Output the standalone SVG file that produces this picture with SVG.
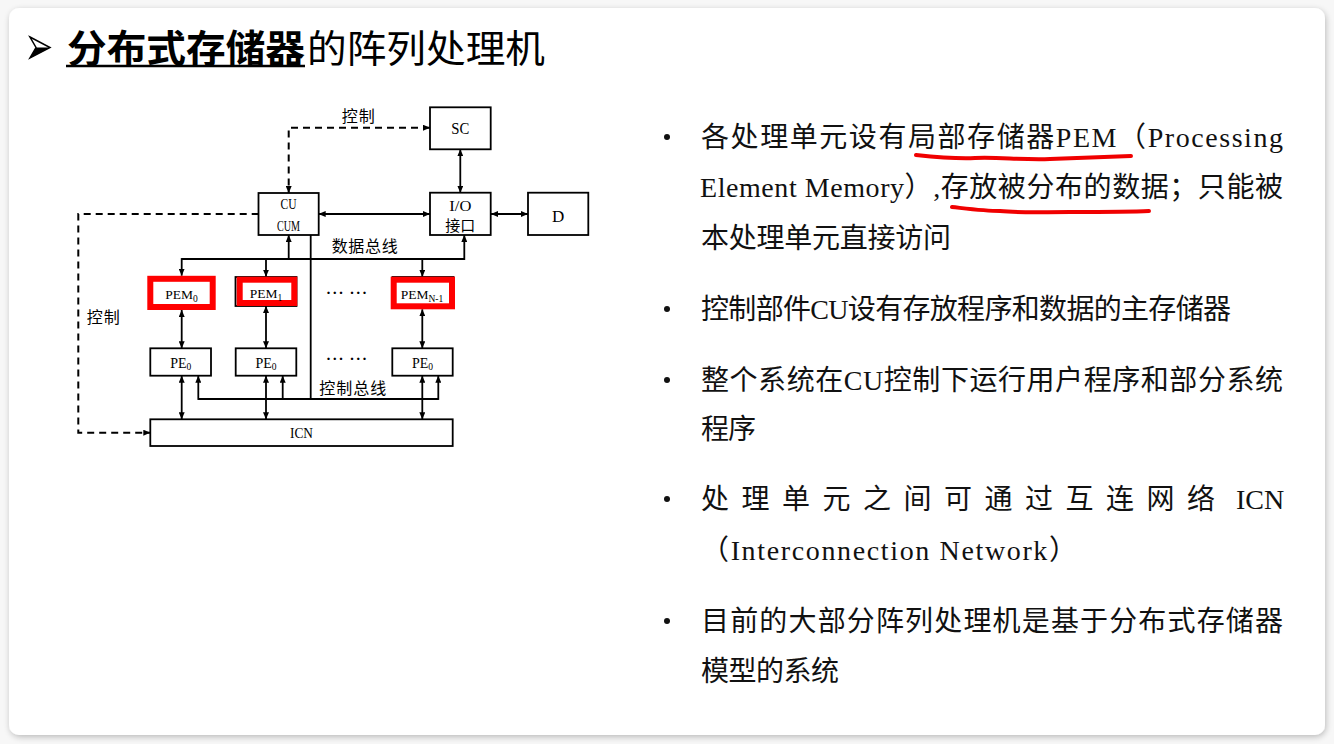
<svg xmlns="http://www.w3.org/2000/svg" width="1334" height="744" viewBox="0 0 1334 744">
<defs>
  <filter id="sh" x="-5%" y="-5%" width="110%" height="110%">
    <feGaussianBlur in="SourceAlpha" stdDeviation="3"/>
    <feOffset dx="1" dy="2" result="b"/>
    <feComponentTransfer><feFuncA type="linear" slope="0.25"/></feComponentTransfer>
    <feMerge><feMergeNode/><feMergeNode in="SourceGraphic"/></feMerge>
  </filter>
  <marker id="ah" viewBox="0 0 7 6" refX="7" refY="3" markerWidth="7" markerHeight="6" markerUnits="userSpaceOnUse" orient="auto-start-reverse">
    <path d="M0,0 L7,3 L0,6 z" fill="#000"/>
  </marker>
  <style>
    .box{fill:#fff;stroke:#000;stroke-width:1.8}
    .red{fill:none;stroke:#ff0000;stroke-width:6}
    .ln{fill:none;stroke:#000;stroke-width:1.8}
    .dash{fill:none;stroke:#000;stroke-width:2;stroke-dasharray:7 5}
    .lat{font-family:"Liberation Serif","Noto Sans CJK SC",serif;fill:#000}
    .cjk{font-family:"Liberation Serif","Noto Sans CJK SC",sans-serif;fill:#000}
    .body{font-family:"Liberation Serif","Noto Sans CJK SC",serif;font-size:28px;fill:#111}
    .title{font-family:"Noto Sans CJK SC",sans-serif;font-size:38px;fill:#000}
    .ul{fill:none;stroke:#f00000;stroke-width:4;stroke-linecap:round}
  </style>
</defs>

<rect x="0" y="0" width="1334" height="744" fill="#f7f7f7"/>
<rect id="card" x="9" y="8" width="1316" height="727" rx="10" fill="#ffffff" filter="url(#sh)"/>

<!-- Title -->
<g id="title">
  <polygon points="30,37 50,47.5 30,58 36,47.5" fill="#fff" stroke="#000" stroke-width="1.5" stroke-linejoin="miter"/>
  <polygon points="36,47.5 50,47.5 30,58" fill="#000"/>
  <text class="title" x="67" y="62" font-weight="bold" textLength="238" lengthAdjust="spacingAndGlyphs">分布式存储器</text>
  <line x1="66" y1="66" x2="305" y2="66" stroke="#000" stroke-width="2.5"/>
  <text class="title" x="307" y="62" textLength="238" lengthAdjust="spacingAndGlyphs">的阵列处理机</text>
</g>

<!-- Connectors -->
<g id="connectors">
  <path class="dash" d="M430,127.7 H288.7 V193" marker-start="url(#ah)" marker-end="url(#ah)"/>
  <path class="dash" d="M318.7,214 H78.3 V432.7 H150.3" marker-end="url(#ah)"/>
  <path class="ln" d="M318.7,214 H430" marker-start="url(#ah)" marker-end="url(#ah)"/>
  <path class="ln" d="M460.3,149.3 V192.7" marker-start="url(#ah)" marker-end="url(#ah)"/>
  <path class="ln" d="M491,214 H528" marker-start="url(#ah)" marker-end="url(#ah)"/>
  <!-- data bus -->
  <path class="ln" d="M181.7,259 H464.3 V235" marker-end="url(#ah)"/>
  <path class="ln" d="M288.7,259 V235" marker-end="url(#ah)"/>
  <path class="ln" d="M181.7,258.1 V275.7" marker-end="url(#ah)"/>
  <path class="ln" d="M266,259 V276.7" marker-end="url(#ah)"/>
  <path class="ln" d="M422.3,259 V276.7" marker-end="url(#ah)"/>
  <!-- control bus -->
  <path class="ln" d="M310.7,235 V399"/>
  <path class="ln" d="M198.3,399 H438.3"/>
  <path class="ln" d="M198.3,399.9 V375.7" marker-end="url(#ah)"/>
  <path class="ln" d="M282.7,399 V375.7" marker-end="url(#ah)"/>
  <path class="ln" d="M438.3,399.9 V375.7" marker-end="url(#ah)"/>
  <!-- PEM <-> PE -->
  <path class="ln" d="M181.7,310 V348.3" marker-start="url(#ah)" marker-end="url(#ah)"/>
  <path class="ln" d="M266,306 V348.3" marker-start="url(#ah)" marker-end="url(#ah)"/>
  <path class="ln" d="M422.3,309.3 V348.3" marker-start="url(#ah)" marker-end="url(#ah)"/>
  <!-- PE <-> ICN -->
  <path class="ln" d="M181.7,375.7 V419.3" marker-start="url(#ah)" marker-end="url(#ah)"/>
  <path class="ln" d="M266,375.7 V419.3" marker-start="url(#ah)" marker-end="url(#ah)"/>
  <path class="ln" d="M422.3,375.7 V419.3" marker-start="url(#ah)" marker-end="url(#ah)"/>
</g>

<!-- Nodes -->
<g id="n-sc">
  <rect class="box" x="430" y="107.3" width="60.7" height="42"/>
  <text class="lat" x="460.3" y="134" font-size="17" text-anchor="middle" textLength="18" lengthAdjust="spacingAndGlyphs">SC</text>
</g>
<g id="n-cu">
  <rect class="box" x="258.5" y="193" width="60.2" height="42"/>
  <text class="lat" x="288.6" y="209" font-size="15" text-anchor="middle" textLength="16" lengthAdjust="spacingAndGlyphs">CU</text>
  <text class="lat" x="288.6" y="231" font-size="15" text-anchor="middle" textLength="23" lengthAdjust="spacingAndGlyphs">CUM</text>
</g>
<g id="n-io">
  <rect class="box" x="430" y="192.7" width="60.7" height="42.3"/>
  <text class="lat" x="460.3" y="211" font-size="15" text-anchor="middle" textLength="22" lengthAdjust="spacingAndGlyphs">I/O</text>
  <text class="cjk" x="460.3" y="231" font-size="15" text-anchor="middle">接口</text>
</g>
<g id="n-d">
  <rect class="box" x="528" y="192.7" width="60.3" height="42.3"/>
  <text class="lat" x="558.2" y="221.5" font-size="17" text-anchor="middle">D</text>
</g>
<g id="n-pem0">
  <rect class="box" x="150.5" y="277" width="61" height="30"/>
  <rect class="red" x="150.3" y="278.8" width="62.4" height="28.2"/>
  <text class="lat" x="181.5" y="299" font-size="13.5" text-anchor="middle">PEM<tspan font-size="9.5" dy="2.5">0</tspan></text>
</g>
<g id="n-pem1">
  <rect class="box" x="235.5" y="277" width="61" height="29"/>
  <rect class="red" x="239.7" y="279.7" width="54.6" height="23.3"/>
  <text class="lat" x="266" y="298" font-size="13.5" text-anchor="middle">PEM<tspan font-size="9.5" dy="2.5">1</tspan></text>
</g>
<g id="n-pemn">
  <rect class="box" x="392.5" y="277" width="61" height="30"/>
  <rect class="red" x="393.7" y="279.7" width="58.3" height="26.6"/>
  <text class="lat" x="422" y="299" font-size="13.5" text-anchor="middle">PEM<tspan font-size="9.5" dy="2.5">N-1</tspan></text>
</g>
<g id="n-pe0">
  <rect class="box" x="150.3" y="348.3" width="60.7" height="27.4"/>
  <text class="lat" x="180.7" y="367.5" font-size="14" text-anchor="middle">PE<tspan font-size="9.5" dy="2.5">0</tspan></text>
</g>
<g id="n-pe1">
  <rect class="box" x="235.7" y="348.3" width="60.6" height="27.4"/>
  <text class="lat" x="266" y="367.5" font-size="14" text-anchor="middle">PE<tspan font-size="9.5" dy="2.5">0</tspan></text>
</g>
<g id="n-pen">
  <rect class="box" x="392.3" y="348.3" width="60.4" height="27.4"/>
  <text class="lat" x="422.5" y="367.5" font-size="14" text-anchor="middle">PE<tspan font-size="9.5" dy="2.5">0</tspan></text>
</g>
<g id="n-icn">
  <rect class="box" x="150.3" y="419.3" width="302.4" height="26.7"/>
  <text class="lat" x="301.5" y="438" font-size="15" text-anchor="middle" textLength="23" lengthAdjust="spacingAndGlyphs">ICN</text>
</g>

<!-- Diagram labels -->
<g id="labels">
  <text class="cjk" x="341.7" y="121.5" font-size="16" textLength="33">控制</text>
  <text class="cjk" x="331.7" y="251.5" font-size="16" textLength="66">数据总线</text>
  <text class="cjk" x="319.3" y="394" font-size="16" textLength="67">控制总线</text>
  <text class="cjk" x="86.7" y="322.5" font-size="16" textLength="33">控制</text>
  <text class="lat" x="326" y="298" font-size="15" font-weight="bold" textLength="41">··· ···</text>
  <text class="lat" x="326" y="364" font-size="15" font-weight="bold" textLength="41">··· ···</text>
</g>

<!-- Right text -->
<g id="bullets">
  <g fill="#111">
    <circle cx="667" cy="137" r="3"/>
    <circle cx="667" cy="309" r="3"/>
    <circle cx="667" cy="380" r="3"/>
    <circle cx="667" cy="499" r="3"/>
    <circle cx="667" cy="621" r="3"/>
  </g>
  <text class="body" x="701" y="146.5" textLength="582">各处理单元设有局部存储器PEM（Processing</text>
  <text class="body" x="700" y="196.5" textLength="583">Element Memory）,存放被分布的数据；只能被</text>
  <text class="body" x="701" y="247.5" textLength="250">本处理单元直接访问</text>
  <text class="body" x="701" y="318.5" textLength="530">控制部件CU设有存放程序和数据的主存储器</text>
  <text class="body" x="701" y="389.5" textLength="582">整个系统在CU控制下运行用户程序和部分系统</text>
  <text class="body" x="701" y="438.5" textLength="55">程序</text>
  <text class="body" x="701" y="508.5"><tspan letter-spacing="12.5">处理单元之间可通过互连网络</tspan><tspan x="1236">ICN</tspan></text>
  <text class="body" x="701" y="559.5" textLength="376">（Interconnection Network）</text>
  <text class="body" x="701" y="630.5" textLength="582">目前的大部分阵列处理机是基于分布式存储器</text>
  <text class="body" x="701" y="680.5" textLength="138">模型的系统</text>
</g>

<!-- Red hand-drawn underlines -->
<g id="highlights">
  <path class="ul" d="M916,155 C935,157 955,159 975,158 C1000,157 1020,160 1050,159 C1080,158 1110,157 1131,156"/>
  <path class="ul" d="M952,207 C970,209 985,211 1000,211 C1020,213 1040,212 1070,212 C1100,212 1130,212 1149,211"/>
</g>
</svg>
